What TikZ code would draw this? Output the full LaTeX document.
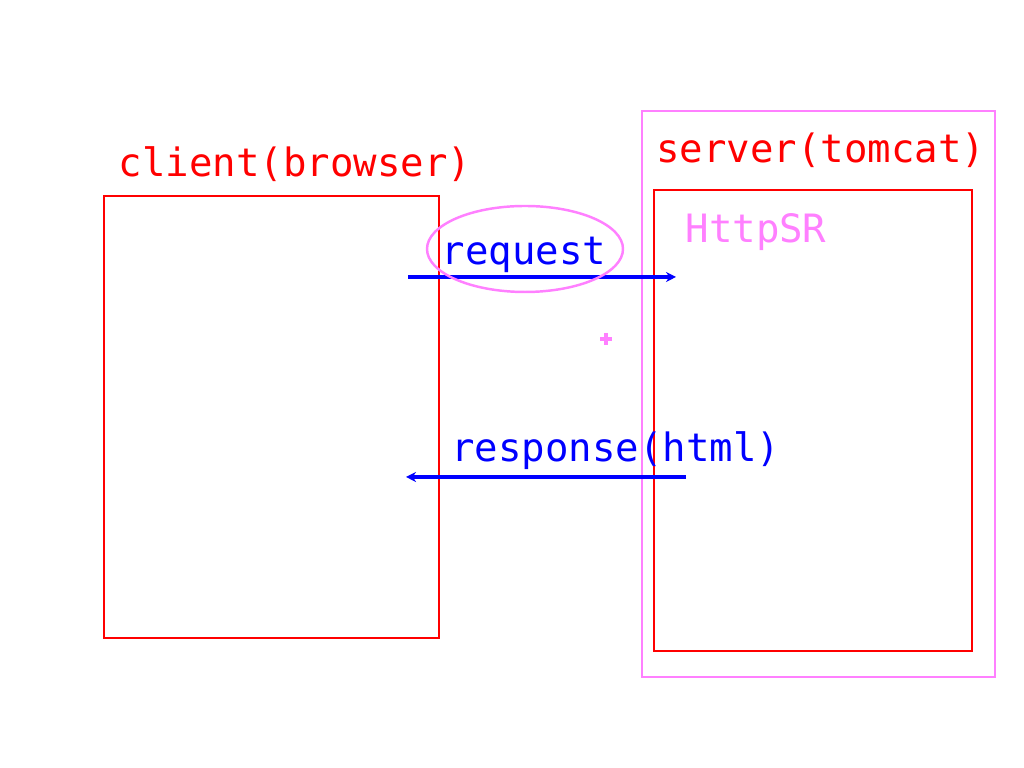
\documentclass[tikz,border=0pt]{standalone}
\usepackage{fontspec}
\setmainfont{DejaVu Sans Mono}
\usepackage{xcolor}
\usepackage{tikz}
\usetikzlibrary{arrows.meta}

\definecolor{penred}{HTML}{FF0000}
\definecolor{penblue}{HTML}{0000FF}
\definecolor{penpink}{HTML}{FF80FF}

\begin{document}
\begin{tikzpicture}[x=0.01cm, y=-0.01cm]
    \useasboundingbox[fill=white] (0,0) rectangle (1024,768);

    % --- DEFINE STYLES ---
    % Style for the boxes
    \tikzstyle{red_box} = [draw=penred, line width=0.7pt]
    \tikzstyle{pink_box} = [draw=penpink, line width=0.7pt]
    % Style for the labels
    \tikzstyle{label_txt} = [inner sep=0pt, anchor=base, font=\fontsize{11.1}{13}\selectfont]
    % Style for the messages
    \tikzstyle{msg} = [draw=penblue, line width=0.9pt, -{Stealth[length=1mm,width=1mm]}]

    % Client side
    \draw[red_box] (104,196) rectangle (439,638);
    \node[label_txt, text=penred] (client) at (295,177) {client(browser)};

    % Server side
    \draw[pink_box] (642,111) rectangle (995,677);
    \draw[red_box] (654,190) rectangle (972,651);
    \node[label_txt, text=penred] (server) at (821,163) {server(tomcat)};
    \node[label_txt, text=penpink] (httpsr) at (756,243) {HttpSR};

    % Request and response
    \coordinate (req_from) at (408,277);
    \coordinate (req_to) at (676,277);
    \coordinate (resp_from) at (686,477);
    \coordinate (resp_to) at (406,477);
    \draw[msg] (req_from) -- (req_to);
    \draw[msg] (resp_from) -- (resp_to);
    \node[label_txt, text=penblue] (request) at (524,265) {request};
    \node[label_txt, text=penblue] (response) at (616,462) {response(html)};

    % Marks
    \draw[penpink, line width=0.7pt] (525,249) ellipse (98 and 43);
    \draw[penpink, line width=0.9pt] (600,339) -- (612,339) (606,333) -- (606,345);
\end{tikzpicture}
\end{document}
